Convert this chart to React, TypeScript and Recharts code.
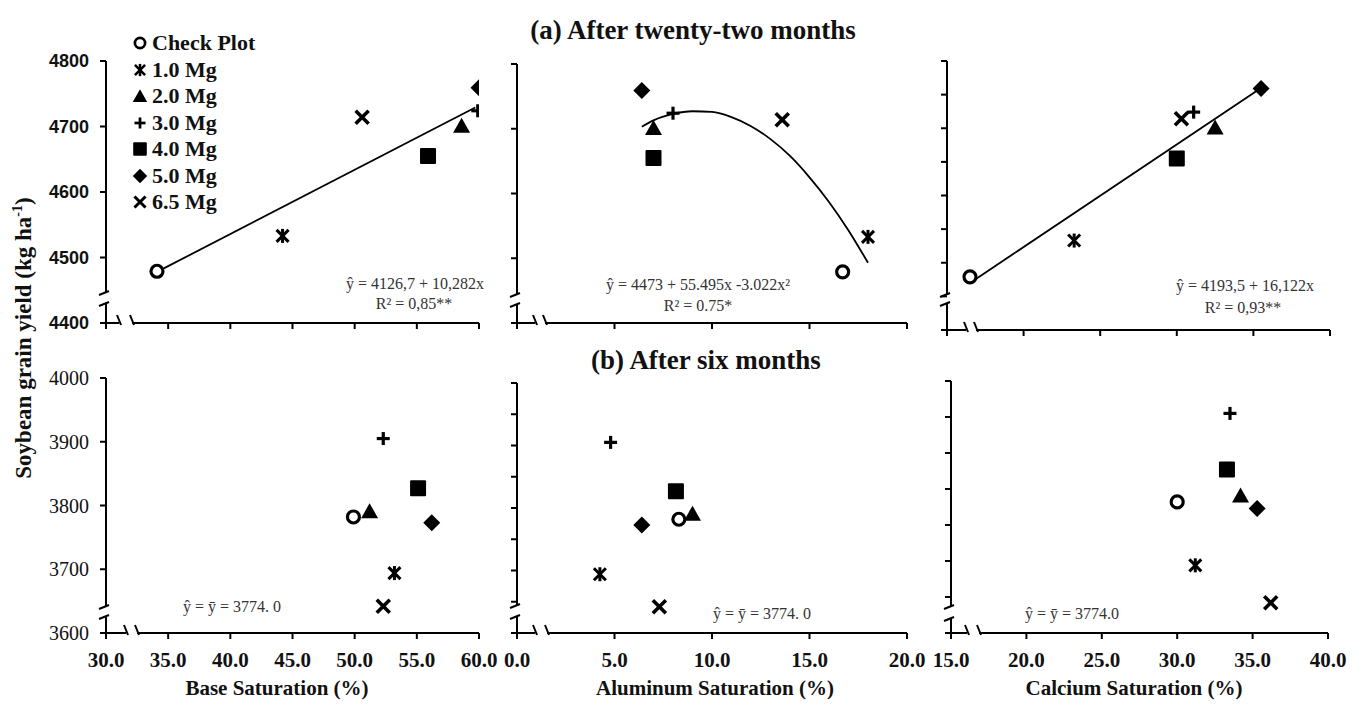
import React from 'react';
import { ScatterChart, Scatter, XAxis, YAxis, ReferenceLine, Legend } from 'recharts';

const treatments = ['Check Plot', '1.0 Mg', '2.0 Mg', '3.0 Mg', '4.0 Mg', '5.0 Mg', '6.5 Mg'];

// grain yield (kg ha-1) per treatment
const yield22 = [4479, 4533, 4701, 4724, 4655, 4759, 4714];
const yield6 = [3782, 3694, 3791, 3905, 3827, 3773, 3642];

// saturations (%) per treatment
const baseSat22 = [34.1, 44.2, 58.6, 59.9, 55.9, 60.0, 50.6];
const alSat22 = [16.7, 18.0, 7.0, 8.0, 7.0, 6.4, 13.6];
const caSat22 = [16.5, 23.3, 32.5, 31.1, 30.0, 35.5, 30.3];
const baseSat6 = [49.9, 53.2, 51.2, 52.3, 55.1, 56.2, 52.3];
const alSat6 = [8.3, 4.25, 9.0, 4.8, 8.15, 6.4, 7.3];
const caSat6 = [30.0, 31.2, 34.2, 33.5, 33.3, 35.3, 36.2];

// fitted curves
const baseFit22X = [34.1, 59.7];
const baseFit22Y = [4478, 4729];
const alFit22X = [6.4, 7, 8, 9, 10, 11, 12, 13, 14, 15, 16, 17, 18];
const alFit22Y = [4703, 4713, 4723, 4727, 4726, 4718, 4704, 4684, 4658, 4625, 4587, 4543, 4493];
const caFit22X = [16.5, 35.5];
const caFit22Y = [4470, 4760];

// ticks
const baseTicks = [30, 35, 40, 45, 50, 55, 60];
const alTicks = [0, 5, 10, 15, 20];
const caTicks = [15, 20, 25, 30, 35, 40];
const yTicks22 = [4400, 4500, 4600, 4700, 4800];
const yTicks22Minor = [4400, 4450, 4500, 4550, 4600, 4650, 4700, 4750, 4800];
const yTicks6 = [3600, 3700, 3800, 3900, 4000];
const yTicks6Minor = [3600, 3650, 3700, 3750, 3800, 3850, 3900, 3950, 4000];
const yTicks6Short = [3600, 3650, 3700, 3750, 3800, 3850, 3900, 3950];

const markerKinds = ['circle', 'star', 'triangle', 'plus', 'square', 'diamond', 'cross'];

const SERIF = '"Liberation Serif", "Times New Roman", serif';
const SANS = '"Liberation Sans", Arial, sans-serif';

function Marker({ cx, cy, kind, s = 1 }: { cx: number; cy: number; kind: string; s?: number }) {
  const k = '#000';
  switch (kind) {
    case 'circle':
      return <circle cx={cx} cy={cy} r={6 * s} fill="#fff" stroke={k} strokeWidth={3.2 * s} />;
    case 'star': {
      const h = 6 * s;
      return (
        <g stroke={k} strokeWidth={3 * s} strokeLinecap="butt">
          <line x1={cx - h} y1={cy - h} x2={cx + h} y2={cy + h} />
          <line x1={cx - h} y1={cy + h} x2={cx + h} y2={cy - h} />
          <line x1={cx} y1={cy - h - 1} x2={cx} y2={cy + h + 1} />
        </g>
      );
    }
    case 'triangle': {
      const w = 8.5 * s;
      return <polygon points={`${cx},${cy - 8 * s} ${cx - w},${cy + 7 * s} ${cx + w},${cy + 7 * s}`} fill={k} />;
    }
    case 'plus': {
      const h = 6.5 * s;
      return (
        <g stroke={k} strokeWidth={3.2 * s}>
          <line x1={cx - h} y1={cy} x2={cx + h} y2={cy} />
          <line x1={cx} y1={cy - h} x2={cx} y2={cy + h} />
        </g>
      );
    }
    case 'square': {
      const h = 8 * s;
      return <rect x={cx - h} y={cy - h} width={2 * h} height={2 * h} fill={k} rx={1} />;
    }
    case 'diamond': {
      const h = 8.5 * s;
      return <polygon points={`${cx},${cy - h} ${cx + h},${cy} ${cx},${cy + h} ${cx - h},${cy}`} fill={k} />;
    }
    case 'cross':
    default: {
      const h = 6.5 * s;
      return (
        <g stroke={k} strokeWidth={3.6 * s}>
          <line x1={cx - h} y1={cy - h} x2={cx + h} y2={cy + h} />
          <line x1={cx - h} y1={cy + h} x2={cx + h} y2={cy - h} />
        </g>
      );
    }
  }
}

const makeShape = (kind: string) => (props: any) => <Marker cx={props.cx} cy={props.cy} kind={kind} />;
const noShape = () => <g />;

const renderLegend = (props: any) => {
  const payload = (props.payload || [])
    .filter((p: any) => treatments.includes(p.value))
    .slice()
    .sort((a: any, b: any) => treatments.indexOf(a.value) - treatments.indexOf(b.value));
  return (
    <div style={{ fontFamily: SERIF, fontWeight: 'bold', fontSize: 22, color: '#111' }}>
      {payload.map((p: any) => {
        const idx = treatments.indexOf(p.value);
        return (
          <div key={p.value} style={{ height: 26.5, display: 'flex', alignItems: 'center', whiteSpace: 'nowrap' }}>
            <svg width={18} height={18} style={{ marginRight: 3 }}>
              <Marker cx={9} cy={9} kind={markerKinds[idx]} s={0.85} />
            </svg>
            <span style={{ lineHeight: '22px' }}>{p.value}</span>
          </div>
        );
      })}
    </div>
  );
};

type Brk = { yHi: number; yLo: number; x1: number; x2: number };
type PanelProps = {
  L: number; R: number; T: number; B: number;
  xDomain: [number, number]; yDomain: [number, number];
  xTicks: number[]; yTicks: number[];
  xs: number[]; ys: number[];
  fitX?: number[]; fitY?: number[]; curve?: boolean;
  showX: boolean; yLabel: 'sans' | 'serif' | null;
  brk: Brk; legend?: boolean;
};

const ML = 100;
const MT = 20;
const MR = 40;
const XH = 60;

function Panel(p: PanelProps) {
  const [x0, x1] = p.xDomain;
  const [y0, y1] = p.yDomain;
  const pw = p.R - p.L;
  const ph = p.B - p.T;
  const px2x = (px: number) => x0 + ((px - p.L) / pw) * (x1 - x0);
  const px2y = (py: number) => y0 + ((p.B - py) / ph) * (y1 - y0);
  const width = pw + ML + MR;
  const height = ph + MT + XH;
  const fitData = p.fitX ? p.fitX.map((x, i) => ({ x, y: p.fitY![i] })) : null;
  const seg = (ax: number, ay: number, bx: number, by: number, key: string) => (
    <ReferenceLine
      key={key}
      segment={[{ x: ax, y: ay }, { x: bx, y: by }]}
      stroke="#000"
      strokeWidth={2}
      ifOverflow="visible"
    />
  );
  const yHiPx = p.B - p.brk.yHi;
  const yLoPx = p.B - p.brk.yLo;
  const xb1 = p.L + p.brk.x1;
  const xb2 = p.L + p.brk.x2;
  const yTickStyle =
    p.yLabel === 'sans'
      ? { fontFamily: SANS, fontWeight: 'bold', fontSize: 18, fill: '#111' }
      : { fontFamily: SERIF, fontSize: 20, fill: '#111' };
  return (
    <div style={{ position: 'absolute', left: p.L - ML, top: p.T - MT, width, height }}>
      <ScatterChart width={width} height={height} margin={{ top: MT, right: MR, bottom: 0, left: 0 }}>
        <XAxis
          type="number"
          dataKey="x"
          domain={p.xDomain}
          ticks={p.xTicks}
          allowDataOverflow
          height={XH}
          axisLine={false}
          tickLine={{ stroke: '#000', strokeWidth: 2 }}
          tickSize={6}
          tickMargin={13}
          interval={0}
          tick={{ fontFamily: SERIF, fontWeight: 'bold', fontSize: 21, fill: '#111' }}
          tickFormatter={(v: number) => (p.showX ? v.toFixed(1) : '')}
        />
        <YAxis
          type="number"
          dataKey="y"
          domain={p.yDomain}
          ticks={p.yTicks}
          allowDataOverflow
          width={ML}
          axisLine={false}
          tickLine={{ stroke: '#000', strokeWidth: 2 }}
          tickSize={6}
          tickMargin={11}
          interval={0}
          tick={yTickStyle}
          tickFormatter={(v: number) => (p.yLabel ? String(v) : '')}
        />
        {seg(x0, px2y(yHiPx), x0, y1, 'ya')}
        {seg(x0, y0, x0, px2y(yLoPx), 'yb')}
        {seg(px2x(p.L - 7), px2y(yHiPx + 2), px2x(p.L + 3), px2y(yHiPx - 2), 'ym1')}
        {seg(px2x(p.L - 7), px2y(yLoPx + 2), px2x(p.L + 3), px2y(yLoPx - 2), 'ym2')}
        {seg(x0, y0, px2x(xb1), y0, 'xa')}
        {seg(px2x(xb2), y0, x1, y0, 'xb')}
        {seg(px2x(xb1 - 2), px2y(p.B - 8), px2x(xb1 + 2), px2y(p.B + 2), 'xm1')}
        {seg(px2x(xb2 - 2), px2y(p.B - 8), px2x(xb2 + 2), px2y(p.B + 2), 'xm2')}
        {fitData && (
          <Scatter
            name="fit"
            data={fitData}
            line={{ stroke: '#000', strokeWidth: 1.8 }}
            lineJointType={p.curve ? 'monotoneX' : 'linear'}
            shape={noShape}
            legendType="none"
            isAnimationActive={false}
          />
        )}
        {treatments.map((t, i) => (
          <Scatter
            key={t}
            name={t}
            data={[{ x: p.xs[i], y: p.ys[i] }]}
            fill="#000"
            shape={makeShape(markerKinds[i])}
            isAnimationActive={false}
          />
        ))}
        {p.legend && (
          <Legend
            layout="vertical"
            align="center"
            verticalAlign="middle"
            content={renderLegend}
            wrapperStyle={{ position: 'absolute', left: 131 - (p.L - ML), top: 30 - (p.T - MT), width: 200, height: 190 }}
          />
        )}
      </ScatterChart>
    </div>
  );
}

const textBase: React.CSSProperties = {
  position: 'absolute',
  fontFamily: SERIF,
  color: '#111',
  whiteSpace: 'nowrap',
  transform: 'translate(-50%, -50%)',
  lineHeight: 1,
};

function T({ x, y, size, bold, children, color }: { x: number; y: number; size: number; bold?: boolean; children: React.ReactNode; color?: string }) {
  return (
    <div style={{ ...textBase, left: x, top: y, fontSize: size, fontWeight: bold ? 'bold' : 'normal', color: color || '#111' }}>
      {children}
    </div>
  );
}

export default function App() {
  return (
    <div style={{ position: 'absolute', left: 0, top: 0, width: 1371, height: 709, background: '#fff', overflow: 'hidden' }}>
      <Panel L={106} R={479} T={61} B={323} xDomain={[30, 60]} yDomain={[4400, 4800]} xTicks={baseTicks} yTicks={yTicks22}
        xs={baseSat22} ys={yield22} fitX={baseFit22X} fitY={baseFit22Y} showX={false} yLabel="sans"
        brk={{ yHi: 30, yLo: 19, x1: 13, x2: 26 }} legend />
      <Panel L={517} R={907} T={64} B={323} xDomain={[0, 20]} yDomain={[4400, 4800]} xTicks={alTicks} yTicks={yTicks22}
        xs={alSat22} ys={yield22} fitX={alFit22X} fitY={alFit22Y} curve showX={false} yLabel={null}
        brk={{ yHi: 28, yLo: 18, x1: 18, x2: 28 }} />
      <Panel L={947} R={1330} T={61} B={330} xDomain={[15, 40]} yDomain={[4400, 4800]} xTicks={caTicks} yTicks={yTicks22Minor}
        xs={caSat22} ys={yield22} fitX={caFit22X} fitY={caFit22Y} showX={false} yLabel={null}
        brk={{ yHi: 35, yLo: 26, x1: 19, x2: 29 }} />
      <Panel L={106} R={479} T={378} B={633} xDomain={[30, 60]} yDomain={[3600, 4000]} xTicks={baseTicks} yTicks={yTicks6}
        xs={baseSat6} ys={yield6} showX yLabel="serif"
        brk={{ yHi: 26, yLo: 16, x1: 20, x2: 31 }} />
      <Panel L={517} R={907} T={383} B={633} xDomain={[0, 20]} yDomain={[3600, 4000]} xTicks={alTicks} yTicks={yTicks6Minor}
        xs={alSat6} ys={yield6} showX yLabel={null}
        brk={{ yHi: 27, yLo: 16, x1: 18, x2: 30 }} />
      <Panel L={951} R={1328} T={381} B={633} xDomain={[15, 40]} yDomain={[3600, 3950]} xTicks={caTicks} yTicks={yTicks6Short}
        xs={caSat6} ys={yield6} showX yLabel={null}
        brk={{ yHi: 26, yLo: 14, x1: 16, x2: 28 }} />

      <T x={693} y={30} size={27} bold>(a) After twenty-two months</T>
      <T x={706} y={360} size={27} bold>(b) After six months</T>

      <div style={{ ...textBase, left: 23, top: 338, fontSize: 23, fontWeight: 'bold', transform: 'translate(-50%, -50%) rotate(-90deg)' }}>
        Soybean grain yield (kg ha<sup style={{ fontSize: 14, verticalAlign: 'super', lineHeight: 0 }}>-1</sup>)
      </div>

      <T x={277} y={688} size={21} bold>Base Saturation (%)</T>
      <T x={715} y={688} size={21} bold>Aluminum Saturation (%)</T>
      <T x={1134} y={688} size={21} bold>Calcium Saturation (%)</T>

      <T x={415} y={284} size={16} color="#333">ŷ = 4126,7 + 10,282x</T>
      <T x={414} y={304} size={16} color="#333">R² = 0,85**</T>
      <T x={698} y={285} size={16} color="#333">ŷ = 4473 + 55.495x -3.022x²</T>
      <T x={698} y={306} size={16} color="#333">R² = 0.75*</T>
      <T x={1245} y={286} size={16} color="#333">ŷ = 4193,5 + 16,122x</T>
      <T x={1243} y={308} size={16} color="#333">R² = 0,93**</T>

      <T x={232} y={607} size={16} color="#333">ŷ = ȳ = 3774. 0</T>
      <T x={762} y={614} size={16} color="#333">ŷ = ȳ = 3774. 0</T>
      <T x={1072} y={614} size={16} color="#333">ŷ = ȳ = 3774.0</T>
    </div>
  );
}
